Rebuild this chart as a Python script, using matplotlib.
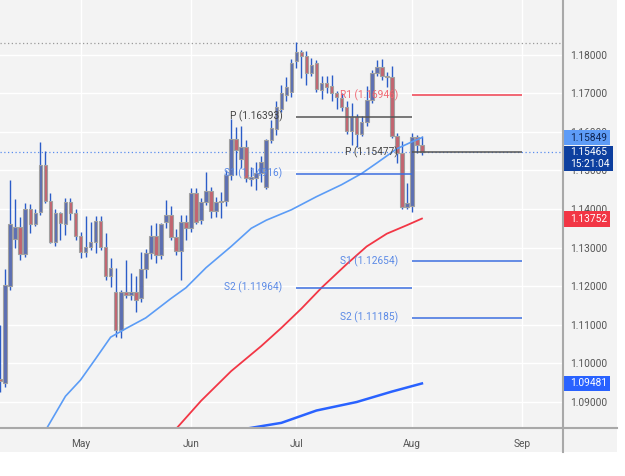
# Gráfico diario EUR/USD con pivotes mensuales y medias móviles
import matplotlib
matplotlib.use("Agg")
import matplotlib.pyplot as plt
from matplotlib.patches import Rectangle
from matplotlib.lines import Line2D
from matplotlib.transforms import blended_transform_factory

plt.rcParams['font.family'] = ['Roboto', 'DejaVu Sans']

# Velas (índice de sesión, 0 = 1 de mayo)
idx = list(range(-16, 69))
apertura = [1.0960, 1.0949, 1.1201, 1.1322, 1.1353, 1.1283, 1.1399, 1.1361, 1.1393, 1.1514,
            1.1421, 1.1314, 1.1390, 1.1360, 1.1419, 1.1389, 1.1330, 1.1289, 1.1302, 1.1315,
            1.1370, 1.1302, 1.1227, 1.1186, 1.1087, 1.1186, 1.1176, 1.1186, 1.1170, 1.1244,
            1.1285, 1.1330, 1.1281, 1.1367, 1.1384, 1.1328, 1.1292, 1.1367, 1.1350, 1.1441,
            1.1372, 1.1419, 1.1447, 1.1395, 1.1419, 1.1422, 1.1488, 1.1581, 1.1530, 1.1560,
            1.1479, 1.1481, 1.1493, 1.1456, 1.1579, 1.1607, 1.1659, 1.1695, 1.1704, 1.1783,
            1.1806, 1.1796, 1.1752, 1.1777, 1.1708, 1.1727, 1.1719, 1.1700, 1.1688, 1.1665,
            1.1603, 1.1639, 1.1594, 1.1626, 1.1683, 1.1753, 1.1768, 1.1745, 1.1742, 1.1589,
            1.1546, 1.1405, 1.1407, 1.1587, 1.1565]
maximo = [1.1099, 1.1244, 1.1475, 1.1426, 1.1380, 1.1416, 1.1413, 1.1399, 1.1574, 1.1549,
          1.1441, 1.1399, 1.1393, 1.1428, 1.1428, 1.1400, 1.1340, 1.1382, 1.1367, 1.1382,
          1.1382, 1.1339, 1.1272, 1.1246, 1.1190, 1.1268, 1.1233, 1.1226, 1.1289, 1.1297,
          1.1359, 1.1363, 1.1365, 1.1423, 1.1408, 1.1349, 1.1384, 1.1385, 1.1454, 1.1454,
          1.1428, 1.1497, 1.1456, 1.1430, 1.1444, 1.1500, 1.1632, 1.1613, 1.1615, 1.1579,
          1.1510, 1.1523, 1.1536, 1.1582, 1.1631, 1.1680, 1.1721, 1.1743, 1.1788, 1.1832,
          1.1811, 1.1808, 1.1790, 1.1785, 1.1745, 1.1745, 1.1748, 1.1705, 1.1700, 1.1680,
          1.1675, 1.1645, 1.1640, 1.1718, 1.1760, 1.1786, 1.1788, 1.1755, 1.1771, 1.1596,
          1.1575, 1.1467, 1.1598, 1.1592, 1.1590]
minimo = [1.0925, 1.0940, 1.1190, 1.1299, 1.1268, 1.1275, 1.1338, 1.1355, 1.1385, 1.1415,
          1.1312, 1.1305, 1.1320, 1.1333, 1.1372, 1.1320, 1.1272, 1.1275, 1.1295, 1.1286,
          1.1295, 1.1216, 1.1199, 1.1069, 1.1065, 1.1170, 1.1165, 1.1134, 1.1160, 1.1220,
          1.1270, 1.1259, 1.1270, 1.1350, 1.1320, 1.1280, 1.1216, 1.1320, 1.1340, 1.1360,
          1.1360, 1.1410, 1.1376, 1.1380, 1.1376, 1.1408, 1.1475, 1.1489, 1.1505, 1.1470,
          1.1460, 1.1449, 1.1471, 1.1452, 1.1570, 1.1592, 1.1652, 1.1680, 1.1690, 1.1764,
          1.1739, 1.1722, 1.1745, 1.1702, 1.1685, 1.1700, 1.1680, 1.1660, 1.1655, 1.1595,
          1.1565, 1.1560, 1.1590, 1.1615, 1.1675, 1.1745, 1.1735, 1.1715, 1.1585, 1.1520,
          1.1400, 1.1400, 1.1392, 1.1545, 1.1540]
cierre = [1.0955, 1.1203, 1.1360, 1.1353, 1.1283, 1.1399, 1.1361, 1.1390, 1.1514, 1.1421,
          1.1314, 1.1390, 1.1365, 1.1419, 1.1389, 1.1330, 1.1289, 1.1301, 1.1315, 1.1370,
          1.1302, 1.1227, 1.1248, 1.1087, 1.1186, 1.1176, 1.1186, 1.1164, 1.1244, 1.1285,
          1.1330, 1.1281, 1.1360, 1.1384, 1.1328, 1.1292, 1.1367, 1.1350, 1.1441, 1.1367,
          1.1419, 1.1447, 1.1395, 1.1419, 1.1422, 1.1488, 1.1581, 1.1553, 1.1560, 1.1480,
          1.1482, 1.1493, 1.1523, 1.1579, 1.1609, 1.1665, 1.1700, 1.1717, 1.1777, 1.1807,
          1.1797, 1.1752, 1.1773, 1.1712, 1.1726, 1.1717, 1.1700, 1.1689, 1.1665, 1.1603,
          1.1639, 1.1594, 1.1626, 1.1683, 1.1753, 1.1768, 1.1745, 1.1742, 1.1589, 1.1546,
          1.1405, 1.1416, 1.1587, 1.1565, 1.15465]

# Medias móviles (puntos leídos)
ma_rapida_idx = [-7, -3, 0, 3, 6, 9, 13, 18, 21, 25, 30, 34, 37, 42, 47, 52, 56, 59, 63, 66, 68]
ma_rapida = [1.0826, 1.0915, 1.0957, 1.1012, 1.1068, 1.1090, 1.1118, 1.1168, 1.1196, 1.1248, 1.1303,
             1.1350, 1.1371, 1.1398, 1.1432, 1.1463, 1.1492, 1.1519, 1.1556, 1.1574, 1.15849]
ma_media_idx = [19, 24, 30, 36, 40, 44, 48, 53, 57, 61, 65, 68]
ma_media = [1.0830, 1.0903, 1.0980, 1.1045, 1.1092, 1.1142, 1.1196, 1.1257, 1.1303, 1.1336, 1.1358, 1.13752]
ma_lenta_idx = [33, 40, 47, 55, 62, 68]
ma_lenta = [1.0831, 1.0846, 1.0878, 1.0900, 1.0927, 1.09481]

# Pivotes mensuales
piv_jul_nombres = ['P', 'S1', 'S2']
piv_jul_valores = [1.16393, 1.14916, 1.11964]
piv_ago_nombres = ['R1', 'P', 'S1', 'S2']
piv_ago_valores = [1.16946, 1.15477, 1.12654, 1.11185]

meses = ['May', 'Jun', 'Jul', 'Aug', 'Sep']
meses_idx = [0, 22, 43, 66, 88]
niveles_y = [1.09, 1.10, 1.11, 1.12, 1.13, 1.14, 1.15, 1.16, 1.17, 1.18]

precio_actual = 1.15465
hora = '15:21:04'
maximo_visible = 1.1829

fondo = '#f3f3f3'
fig = plt.figure(figsize=(6.25, 4.76), dpi=100, facecolor='white')
fig.patches.append(Rectangle((0, 1 - 452 / 476), 617 / 625, 452 / 476, transform=fig.transFigure,
                             facecolor=fondo, edgecolor='none', zorder=-10))
ax = fig.add_axes([0, 1 - 428 / 476, 563 / 625, 428 / 476])
ax.set_facecolor(fondo)
ax.set_xlim(-16.04, 96.1)
ax.set_ylim(1.08327, 1.19414)

for s in ax.spines.values():
    s.set_visible(False)
ax.set_axisbelow(True)
ax.grid(color='white', lw=1)
ax.set_yticks(niveles_y)
ax.set_yticklabels([f'{v:.5f}' for v in niveles_y])
ax.yaxis.tick_right()
ax.set_xticks(meses_idx)
ax.set_xticklabels(meses)
ax.tick_params(axis='y', length=0, pad=5, labelsize=7.3, labelcolor='#555555')
ax.tick_params(axis='x', length=0, pad=8, labelsize=7.3, labelcolor='#555555')

# Líneas punteadas de máximo y precio actual
ax.axhline(maximo_visible, color='#9a9a9a', ls=(0, (1, 2)), lw=0.9, zorder=2)
ax.axhline(precio_actual, color='#5b8def', ls=(0, (1, 2)), lw=0.9, zorder=2)

# Velas
cuerpo_base = [min(o, c) for o, c in zip(apertura, cierre)]
cuerpo_alto = [max(abs(c - o), 0.00015) for o, c in zip(apertura, cierre)]
colores = ['#5c6fb3' if c >= o else '#c26470' for o, c in zip(apertura, cierre)]
ax.vlines(idx, minimo, maximo, color='#2b5cc8', lw=1, zorder=3)
ax.bar(idx, cuerpo_alto, bottom=cuerpo_base, width=0.72, color=colores,
       edgecolor='#a0a0a0', lw=0.8, zorder=4)

# Medias móviles
ax.plot(ma_lenta_idx, ma_lenta, color='#2962ff', lw=1.8, zorder=5)
ax.plot(ma_media_idx, ma_media, color='#f23645', lw=1.3, zorder=5)
ax.plot(ma_rapida_idx, ma_rapida, color='#5b9cf6', lw=1.2, zorder=5)

# Pivotes
col_piv = {'P': '#555555', 'R1': '#f04050', 'S1': '#3d6fe0', 'S2': '#3d6fe0'}
col_txt = {'P': '#444444', 'R1': '#f06670', 'S1': '#5b8ae6', 'S2': '#5b8ae6'}
for nombres, valores, ini, fin in [(piv_jul_nombres, piv_jul_valores, meses_idx[2], meses_idx[3]),
                                   (piv_ago_nombres, piv_ago_valores, meses_idx[3], meses_idx[4])]:
    for n, v in zip(nombres, valores):
        ax.hlines(v, ini, fin, color=col_piv[n], lw=1.1, zorder=6)
        ax.text(ini - 2.8, v, f'{n} ({v:.5f})', ha='right', va='center',
                fontsize=7.3, color=col_txt[n], zorder=7)

# Etiquetas del eje de precios
tr = blended_transform_factory(ax.transAxes, ax.transData)
px = 1 / 3860
x_txt = 570 / 563
cajas = [(1.15849, '#5e9cf7', '#0f2350', 7.5 * px, 7.5 * px, 610 / 563),
         (1.13752, '#f23645', 'white', 8 * px, 8 * px, 610 / 563),
         (1.09481, '#2962ff', 'white', 7.5 * px, 7.5 * px, 610 / 563)]
for v, fc, tc, arriba, abajo, x_fin in cajas:
    ax.add_patch(Rectangle((1.0, v - abajo), x_fin - 1.0, arriba + abajo, transform=tr,
                           facecolor=fc, edgecolor='none', clip_on=False, zorder=8))
    ax.text(x_txt, v, f'{v:.5f}', transform=tr, ha='left', va='center',
            fontsize=7.3, color=tc, zorder=9, clip_on=False)
ax.add_patch(Rectangle((1.0, precio_actual - 18.5 * px), 613 / 563 - 1.0, 25 * px, transform=tr,
                       facecolor='#0d3f9f', edgecolor='none', clip_on=False, zorder=8))
ax.text(x_txt, precio_actual, f'{precio_actual:.5f}', transform=tr, ha='left', va='center',
        fontsize=7.3, color='white', zorder=9, clip_on=False)
ax.text(x_txt, precio_actual - 12 * px, hora, transform=tr, ha='left', va='center',
        fontsize=7.3, color='white', zorder=9, clip_on=False)

# Bordes de los ejes
fig.lines.append(Line2D([0, 617 / 625], [1 - 428 / 476] * 2, transform=fig.transFigure,
                        color='#a8a8a8', lw=1.5))
fig.lines.append(Line2D([563 / 625] * 2, [1 - 452 / 476, 1], transform=fig.transFigure,
                        color='#a8a8a8', lw=1.5))

fig.savefig('out.png', dpi=100, facecolor='white')
